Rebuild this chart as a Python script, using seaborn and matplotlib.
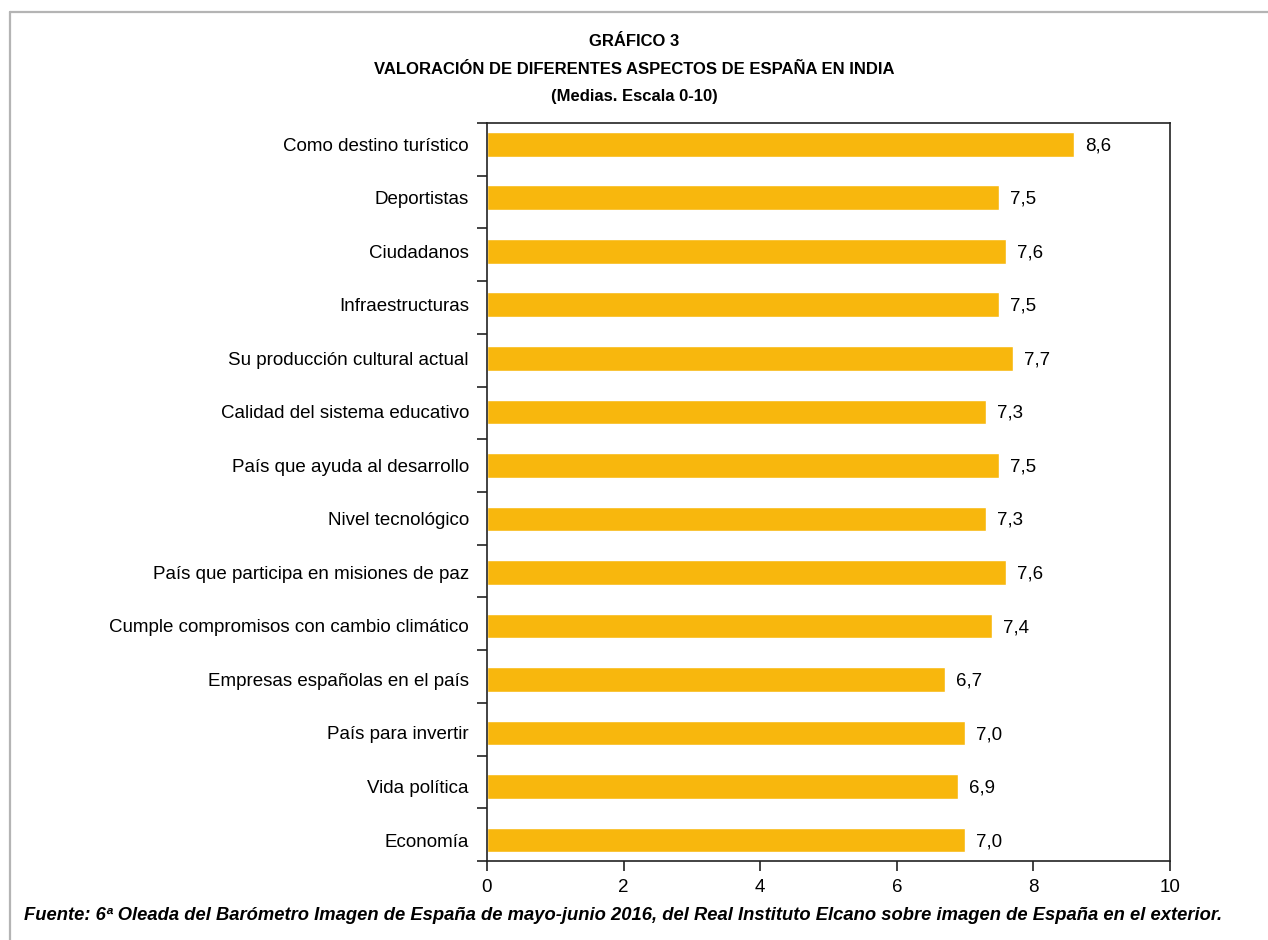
import matplotlib
matplotlib.use("Agg")
import matplotlib.pyplot as plt
from matplotlib.lines import Line2D
import seaborn as sns
import pandas as pd
import numpy as np

categories = [
    "Como destino turístico",
    "Deportistas",
    "Ciudadanos",
    "Infraestructuras",
    "Su producción cultural actual",
    "Calidad del sistema educativo",
    "País que ayuda al desarrollo",
    "Nivel tecnológico",
    "País que participa en misiones de paz",
    "Cumple compromisos con cambio climático",
    "Empresas españolas en el país",
    "País para invertir",
    "Vida política",
    "Economía",
]
values = [8.6, 7.5, 7.6, 7.5, 7.7, 7.3, 7.5, 7.3, 7.6, 7.4, 6.7, 7.0, 6.9, 7.0]
value_labels = ["8,6", "7,5", "7,6", "7,5", "7,7", "7,3", "7,5", "7,3", "7,6", "7,4", "6,7", "7,0", "6,9", "7,0"]
x_ticks = [0, 2, 4, 6, 8, 10]

sns.set_theme(style="white")
plt.rcParams["font.family"] = ["Liberation Sans", "DejaVu Sans"]
plt.rcParams["text.color"] = "black"
plt.rcParams["xtick.color"] = "#222222"
plt.rcParams["ytick.color"] = "#222222"
plt.rcParams["xtick.labelcolor"] = "black"
plt.rcParams["ytick.labelcolor"] = "black"

df = pd.DataFrame({"aspecto": categories, "media": values})

fig = plt.figure(figsize=(12.68, 9.4), dpi=100)
ax = fig.add_axes([487 / 1268, 1 - 861 / 940, (1170 - 487) / 1268, (861 - 123) / 940])

sns.barplot(data=df, x="media", y="aspecto", orient="h", color="#F8B70D",
            saturation=1, width=0.46, ax=ax)

for i, (v, lab) in enumerate(zip(values, value_labels)):
    ax.text(v + 0.16, i + 0.03, lab, va="center", ha="left", fontsize=13.5, color="black")

n = len(categories)
y_top, y_bottom = -0.396, n - 1 + 0.392
ax.set_xlim(0, 10)
ax.set_ylim(y_bottom, y_top)
ax.set_xticks(x_ticks)
ax.set_xticklabels([str(t) for t in x_ticks], fontsize=13.5)
ax.set_yticks(np.arange(n))
ax.set_yticklabels(categories, fontsize=13.5)
# separator ticks dividing the axis into equal category bands
ax.set_yticks(y_top + (y_bottom - y_top) * np.arange(n + 1) / n, minor=True)
ax.tick_params(axis="y", which="major", left=False, length=0, pad=13)
ax.tick_params(axis="y", which="minor", left=True, length=7, width=1.2, direction="out")
ax.tick_params(axis="x", which="major", bottom=True, length=7, width=1.2, direction="out", pad=6)
ax.set_xlabel("")
ax.set_ylabel("")
for s in ax.spines.values():
    s.set_visible(True)
    s.set_color("#222222")
    s.set_linewidth(1.2)

fig.text(0.5, 1 - 42 / 940, "GRÁFICO 3", ha="center", va="center", fontsize=12, fontweight="bold")
fig.text(0.5, 1 - 70 / 940, "VALORACIÓN DE DIFERENTES ASPECTOS DE ESPAÑA EN INDIA",
         ha="center", va="center", fontsize=12, fontweight="bold")
fig.text(0.5, 1 - 97 / 940, "(Medias. Escala 0-10)", ha="center", va="center", fontsize=12, fontweight="bold")
fig.text(1222 / 1268, 1 - 915 / 940,
         "Fuente: 6ª Oleada del Barómetro Imagen de España de mayo-junio 2016, del Real Instituto Elcano sobre imagen de España en el exterior.",
         ha="right", va="center", fontsize=13.2, fontweight="bold", style="italic")

# outer frame lines (top and left)
fig.add_artist(Line2D([10 / 1268, 1], [1 - 12 / 940, 1 - 12 / 940], transform=fig.transFigure,
                      color="#B4B4B4", linewidth=1.6))
fig.add_artist(Line2D([10 / 1268, 10 / 1268], [0, 1 - 12 / 940], transform=fig.transFigure,
                      color="#B4B4B4", linewidth=1.6))

fig.savefig("out.png", dpi=100)
